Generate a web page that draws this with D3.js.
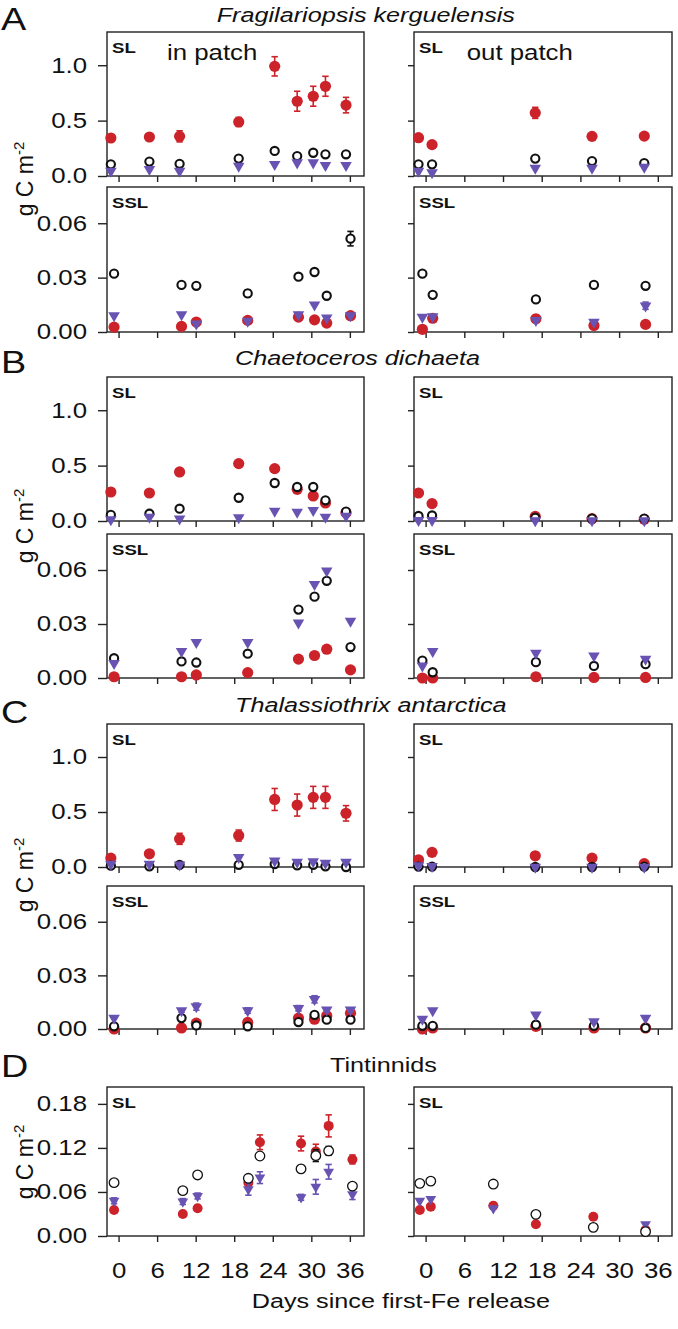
<!DOCTYPE html>
<html>
<head>
<meta charset="utf-8">
<script src="https://cdn.jsdelivr.net/npm/d3@7"></script>
<style>
  html, body { margin: 0; padding: 0; background: #fff; }
  svg { display: block; }
  text { font-family: "Liberation Sans", Arial, Helvetica, sans-serif; fill: #111; }
</style>
</head>
<body>
<script>
// ---------------- DATA ----------------
const dayTicks = [0, 6, 12, 18, 24, 30, 36];
const slTicks = [0, 0.5, 1.0];
const sslTicks = [0, 0.03, 0.06];
const tinTicks = [0, 0.06, 0.12, 0.18];

// sampling days
const inSLDays  = [-1.2, 4.8, 9.5, 18.7, 24.3, 27.8, 30.3, 32.2, 35.4];
const inSSLDays = [-0.7, 9.8, 12.1, 20.1, 28.0, 30.5, 32.4, 36.1];
const outSLDays = [-1.1, 1.0, 17.0, 25.8, 33.9];
const outSSLDays = [-0.5, 1.1, 17.1, 26.1, 34.1];
const tinInDays  = [-0.7, 10.0, 12.3, 20.2, 22.0, 28.4, 30.7, 32.7, 36.4];
const tinOutDays = [-0.9, 0.8, 10.5, 17.1, 26.0, 34.1];

// A: Fragilariopsis kerguelensis
const aSLinRed = [0.343, 0.352, 0.358, 0.488, 0.99, 0.675, 0.72, 0.81, 0.64];
const aSLinRedErr = [0.02, 0.02, 0.05, 0.04, 0.087, 0.09, 0.09, 0.09, 0.07];
const aSLinBlack = [0.105, 0.13, 0.11, 0.157, 0.226, 0.18, 0.21, 0.196, 0.196];
const aSLinPurple = [0.045, 0.06, 0.045, 0.09, 0.105, 0.12, 0.12, 0.096, 0.096];
const aSLoutRed = [0.346, 0.283, 0.57, 0.358, 0.36];
const aSLoutRedErr = [0.02, 0.02, 0.05, 0.02, 0.02];
const aSLoutBlack = [0.105, 0.105, 0.157, 0.135, 0.117];
const aSLoutPurple = [0.045, 0.03, 0.072, 0.072, 0.08];
const aSSLinRed = [0.0027, 0.0031, 0.0055, 0.0064, 0.0082, 0.0067, 0.0049, 0.009];
const aSSLinBlack = [0.0322, 0.026, 0.0255, 0.0213, 0.0305, 0.0331, 0.020, 0.0515];
const aSSLinBlackErr = [0.001, 0, 0, 0.0018, 0.001, 0.001, 0, 0.004];
const aSSLinPurple = [0.009, 0.0096, 0.0045, 0.006, 0.0096, 0.015, 0.0078, 0.009];
const aSSLoutRed = [0.0015, 0.0076, 0.0073, 0.0036, 0.0042];
const aSSLoutBlack = [0.0322, 0.0205, 0.018, 0.026, 0.0255];
const aSSLoutBlackErr = [0.001, 0, 0, 0.001, 0.0015];
const aSSLoutPurple = [0.0082, 0.0085, 0.0064, 0.0055, 0.0145];
const aSSLoutPurpleErr = [0, 0, 0, 0, 0.002];

// B: Chaetoceros dichaeta
const bSLinRed = [0.262, 0.253, 0.443, 0.518, 0.473, 0.286, 0.226, 0.163, 0.075];
const bSLinBlack = [0.055, 0.066, 0.111, 0.21, 0.343, 0.307, 0.307, 0.187, 0.085];
const bSLinPurple = [0.012, 0.036, 0.02, 0.03, 0.09, 0.08, 0.096, 0.036, 0.045];
const bSLoutRed = [0.253, 0.157, 0.042, 0.021, 0.015];
const bSLoutBlack = [0.045, 0.05, 0.03, 0.021, 0.021];
const bSLoutPurple = [0.006, 0.006, 0.004, 0.004, 0.004];
const bSSLinRed = [0.0007, 0.0007, 0.0017, 0.003, 0.0105, 0.0125, 0.016, 0.0045];
const bSSLinBlack = [0.011, 0.0092, 0.0086, 0.0135, 0.038, 0.0452, 0.054, 0.0172];
const bSSLinPurple = [0.0082, 0.0148, 0.0198, 0.0198, 0.0307, 0.052, 0.0596, 0.0316];
const bSSLoutRed = [0, 0, 0.0007, 0.0003, 0.0003];
const bSSLoutBlack = [0.0097, 0.0032, 0.0088, 0.0067, 0.0077];
const bSSLoutPurple = [0.0067, 0.0148, 0.0138, 0.0123, 0.0105];

// C: Thalassiothrix antarctica
const cSLinRed = [0.081, 0.12, 0.256, 0.286, 0.614, 0.563, 0.633, 0.633, 0.488];
const cSLinRedErr = [0.01, 0.03, 0.05, 0.05, 0.1, 0.1, 0.1, 0.1, 0.07];
const cSLinBlack = [0.012, 0.006, 0.02, 0.02, 0.027, 0.015, 0.02, 0.006, 0.0];
const cSLinPurple = [0.027, 0.027, 0.02, 0.087, 0.057, 0.045, 0.05, 0.036, 0.045];
const cSLoutRed = [0.066, 0.133, 0.102, 0.081, 0.03];
const cSLoutRedErr = [0, 0.03, 0, 0, 0];
const cSLoutBlack = [0.004, 0.004, 0.0, 0.0, 0.004];
const cSLoutPurple = [0.012, 0.006, 0.0, 0.0, 0.0];
const cSSLinRed = [0, 0.0006, 0.0033, 0.0037, 0.0061, 0.0055, 0.0074, 0.0088];
const cSSLinBlack = [0.0015, 0.0061, 0.002, 0.0015, 0.0039, 0.0079, 0.0052, 0.0052];
const cSSLinPurple = [0.0061, 0.0103, 0.0125, 0.0103, 0.0116, 0.0166, 0.0107, 0.0107];
const cSSLinPurpleErr = [0, 0.001, 0.002, 0.0015, 0.0015, 0.002, 0.001, 0.001];
const cSSLoutRed = [0, 0.0006, 0.0015, 0.0006, 0.0006];
const cSSLoutBlack = [0.0018, 0.0018, 0.0024, 0.0018, 0.0006];
const cSSLoutPurple = [0.0055, 0.0103, 0.0079, 0.0042, 0.0061];

// D: Tintinnids
const dInRed = [0.0355, 0.030, 0.0377, 0.0727, 0.1277, 0.126, 0.115, 0.150, 0.1043];
const dInRedErr = [0, 0, 0, 0, 0.01, 0.01, 0.01, 0.015, 0.006];
const dInBlack = [0.0727, 0.0618, 0.0832, 0.0786, 0.109, 0.0914, 0.1095, 0.116, 0.068];
const dInBlackErr = [0, 0, 0, 0, 0, 0, 0.008, 0.006, 0];
const dInPurple = [0.048, 0.047, 0.0545, 0.0636, 0.0795, 0.0527, 0.067, 0.0875, 0.0567];
const dInPurpleErr = [0.004, 0.004, 0.004, 0.008, 0.008, 0.004, 0.01, 0.01, 0.007];
const dOutRed = [0.0354, 0.040, 0.0413, 0.0159, 0.0263, 0.0082];
const dOutBlack = [0.0717, 0.0748, 0.0708, 0.0295, 0.0118, 0.0059];
const dOutPurple = [0.048, 0.0503, 0.0377, null, null, 0.0159];

const titles = ["Fragilariopsis kerguelensis", "Chaetoceros dichaeta", "Thalassiothrix antarctica", "Tintinnids"];
const letters = ["A", "B", "C", "D"];

// ---------------- LAYOUT / STYLE ----------------
const W = 678, H = 1329;
const SX = 1.2; // horizontal text stretch
const RED = "#cc2229", PURPLE = "#6853b2", INK = "#111";

const svg = d3.select("body").append("svg").attr("width", W).attr("height", H);
svg.append("rect").attr("width", W).attr("height", H).attr("fill", "#fff");

const xL = d3.scaleLinear().domain([-1.8, 38.2]).range([107, 364]);
const xR = d3.scaleLinear().domain([-1.8, 38.2]).range([414, 672]);

function addText(parent, str, x, y, opts = {}) {
  const t = parent.append("text")
    .attr("transform", `translate(${x},${y}) scale(${SX},1)`)
    .attr("font-size", opts.size || 21)
    .attr("text-anchor", opts.anchor || "start")
    .text(str);
  if (opts.italic) t.attr("font-style", "italic");
  if (opts.bold) t.attr("font-weight", "bold");
  return t;
}

function series(days, vals, errs) {
  return days.map((d, i) => ({ d, v: vals[i], e: errs ? errs[i] : 0 })).filter(o => o.v !== null && o.v !== undefined);
}

function drawPanel(p) {
  const x = p.col === 0 ? xL : xR;
  const y = d3.scaleLinear().domain([0, p.ymax]).range([p.bottom, p.top]);
  const g = svg.append("g");
  const [x0, x1] = x.range();

  // y axis
  const ya = d3.axisLeft(y).tickValues(p.ticks)
    .tickSize(p.col === 0 ? 9 : 6)
    .tickPadding(11)
    .tickFormat(p.col === 0 ? d3.format(p.fmt) : () => "");
  const gy = g.append("g").attr("transform", `translate(${x0},0)`).call(ya);
  gy.select(".domain").remove();
  gy.selectAll("line").attr("stroke", "#222").attr("stroke-width", 1.4);
  gy.selectAll("text").attr("font-size", 21.5).attr("fill", INK)
    .attr("font-family", "Liberation Sans, Arial, sans-serif")
    .attr("x", -20 / SX).attr("transform", `scale(${SX},1)`);

  // x axis
  const xa = d3.axisBottom(x).tickValues(dayTicks).tickSize(6).tickPadding(21)
    .tickFormat(p.xlabels ? d3.format("d") : () => "");
  const gx = g.append("g").attr("transform", `translate(0,${p.bottom})`).call(xa);
  gx.select(".domain").remove();
  gx.selectAll("line").attr("stroke", "#222").attr("stroke-width", 1.4);
  gx.selectAll("text").attr("font-size", 21.5).attr("fill", INK)
    .attr("font-family", "Liberation Sans, Arial, sans-serif")
    .attr("transform", `scale(${SX},1)`);

  // box
  g.append("rect").attr("x", x0).attr("y", p.top).attr("width", x1 - x0).attr("height", p.bottom - p.top)
    .attr("fill", "none").attr("stroke", "#222").attr("stroke-width", 1.4);

  addText(g, p.layer, x0 + 5, p.top + 21, { size: 15.5, bold: true });

  const big = p.tin;
  const drawErr = (data, color) => {
    const eg = g.append("g").attr("stroke", color).attr("stroke-width", 1.6);
    data.filter(o => o.e > 0).forEach(o => {
      const cx = x(o.d), ya_ = y(o.v + o.e), yb = y(Math.max(0, o.v - o.e));
      eg.append("line").attr("x1", cx).attr("x2", cx).attr("y1", ya_).attr("y2", yb);
      eg.append("line").attr("x1", cx - 3.2).attr("x2", cx + 3.2).attr("y1", ya_).attr("y2", ya_);
      eg.append("line").attr("x1", cx - 3.2).attr("x2", cx + 3.2).attr("y1", yb).attr("y2", yb);
    });
  };
  const drawRed = () => {
    const data = series(p.days, p.red, p.redErr);
    drawErr(data, RED);
    g.append("g").selectAll("circle").data(data).join("circle")
      .attr("cx", o => x(o.d)).attr("cy", o => y(o.v)).attr("r", big ? 5.0 : 5.6).attr("fill", RED);
  };
  const drawBlack = () => {
    const data = series(p.days, p.black, p.blackErr);
    drawErr(data, INK);
    g.append("g").selectAll("circle").data(data).join("circle")
      .attr("cx", o => x(o.d)).attr("cy", o => y(o.v)).attr("r", big ? 4.8 : 4.1)
      .attr("fill", "#fff").attr("stroke", INK).attr("stroke-width", big ? 1.3 : 2.1);
  };
  const drawPurple = () => {
    const data = series(p.days, p.purple, p.purpleErr);
    drawErr(data, PURPLE);
    const sym = d3.symbol(d3.symbolTriangle, big ? 50 : 58);
    g.append("g").selectAll("path").data(data).join("path")
      .attr("d", sym).attr("fill", PURPLE)
      .attr("transform", o => `translate(${x(o.d)},${y(o.v)}) rotate(180)`);
  };
  if (p.tin) { drawRed(); drawPurple(); drawBlack(); }
  else { drawRed(); drawBlack(); drawPurple(); }
}

const SL = { ymax: 1.3, ticks: slTicks, fmt: ".1f", layer: "SL" };
const SSL = { ymax: 0.08, ticks: sslTicks, fmt: ".2f", layer: "SSL" };

const panels = [
  // A
  { ...SL, col: 0, top: 32, bottom: 176, days: inSLDays, red: aSLinRed, redErr: aSLinRedErr, black: aSLinBlack, purple: aSLinPurple },
  { ...SL, col: 1, top: 32, bottom: 176, days: outSLDays, red: aSLoutRed, redErr: aSLoutRedErr, black: aSLoutBlack, purple: aSLoutPurple },
  { ...SSL, col: 0, top: 187, bottom: 332, days: inSSLDays, red: aSSLinRed, black: aSSLinBlack, blackErr: aSSLinBlackErr, purple: aSSLinPurple },
  { ...SSL, col: 1, top: 187, bottom: 332, days: outSSLDays, red: aSSLoutRed, black: aSSLoutBlack, blackErr: aSSLoutBlackErr, purple: aSSLoutPurple, purpleErr: aSSLoutPurpleErr },
  // B
  { ...SL, col: 0, top: 377, bottom: 521, days: inSLDays, red: bSLinRed, black: bSLinBlack, purple: bSLinPurple },
  { ...SL, col: 1, top: 377, bottom: 521, days: outSLDays, red: bSLoutRed, black: bSLoutBlack, purple: bSLoutPurple },
  { ...SSL, col: 0, top: 534, bottom: 678, days: inSSLDays, red: bSSLinRed, black: bSSLinBlack, purple: bSSLinPurple },
  { ...SSL, col: 1, top: 534, bottom: 678, days: outSSLDays, red: bSSLoutRed, black: bSSLoutBlack, purple: bSSLoutPurple },
  // C
  { ...SL, col: 0, top: 724, bottom: 867, days: inSLDays, red: cSLinRed, redErr: cSLinRedErr, black: cSLinBlack, purple: cSLinPurple },
  { ...SL, col: 1, top: 724, bottom: 867, days: outSLDays, red: cSLoutRed, redErr: cSLoutRedErr, black: cSLoutBlack, purple: cSLoutPurple },
  { ...SSL, col: 0, top: 886, bottom: 1029, days: inSSLDays, red: cSSLinRed, black: cSSLinBlack, purple: cSSLinPurple, purpleErr: cSSLinPurpleErr },
  { ...SSL, col: 1, top: 886, bottom: 1029, days: outSSLDays, red: cSSLoutRed, black: cSSLoutBlack, purple: cSSLoutPurple },
  // D
  { ymax: 0.203, ticks: tinTicks, fmt: ".2f", layer: "SL", tin: true, xlabels: true, col: 0, top: 1087, bottom: 1236,
    days: tinInDays, red: dInRed, redErr: dInRedErr, black: dInBlack, blackErr: dInBlackErr, purple: dInPurple, purpleErr: dInPurpleErr },
  { ymax: 0.203, ticks: tinTicks, fmt: ".2f", layer: "SL", tin: true, xlabels: true, col: 1, top: 1087, bottom: 1236,
    days: tinOutDays, red: dOutRed, black: dOutBlack, purple: dOutPurple }
];
panels.forEach(drawPanel);

// titles & letters
const titleX = [216.7, 235, 235, 330];
const titleY = [21.7, 365, 712, 1072];
const letterY = [30, 373, 723, 1077];
titles.forEach((t, i) => addText(svg, t, titleX[i], titleY[i], { size: 21, italic: i < 3 }));
letters.forEach((l, i) => addText(svg, l, 1, letterY[i], { size: 31.5 }));

addText(svg, "in patch", 167, 60, { size: 21.5 });
addText(svg, "out patch", 466.7, 60, { size: 21.5 });

// y axis labels
const yLabelC = [179, 526, 875, 1162];
yLabelC.forEach(cy => {
  const t = svg.append("text")
    .attr("transform", `translate(33,${cy}) rotate(-90)`)
    .attr("text-anchor", "middle").attr("font-size", 23);
  t.append("tspan").text("g C m");
  t.append("tspan").attr("font-size", 15).attr("dy", -9).text("-2");
});

// x axis title
addText(svg, "Days since first-Fe release", 251.7, 1308, { size: 21 });
</script>
</body>
</html>
